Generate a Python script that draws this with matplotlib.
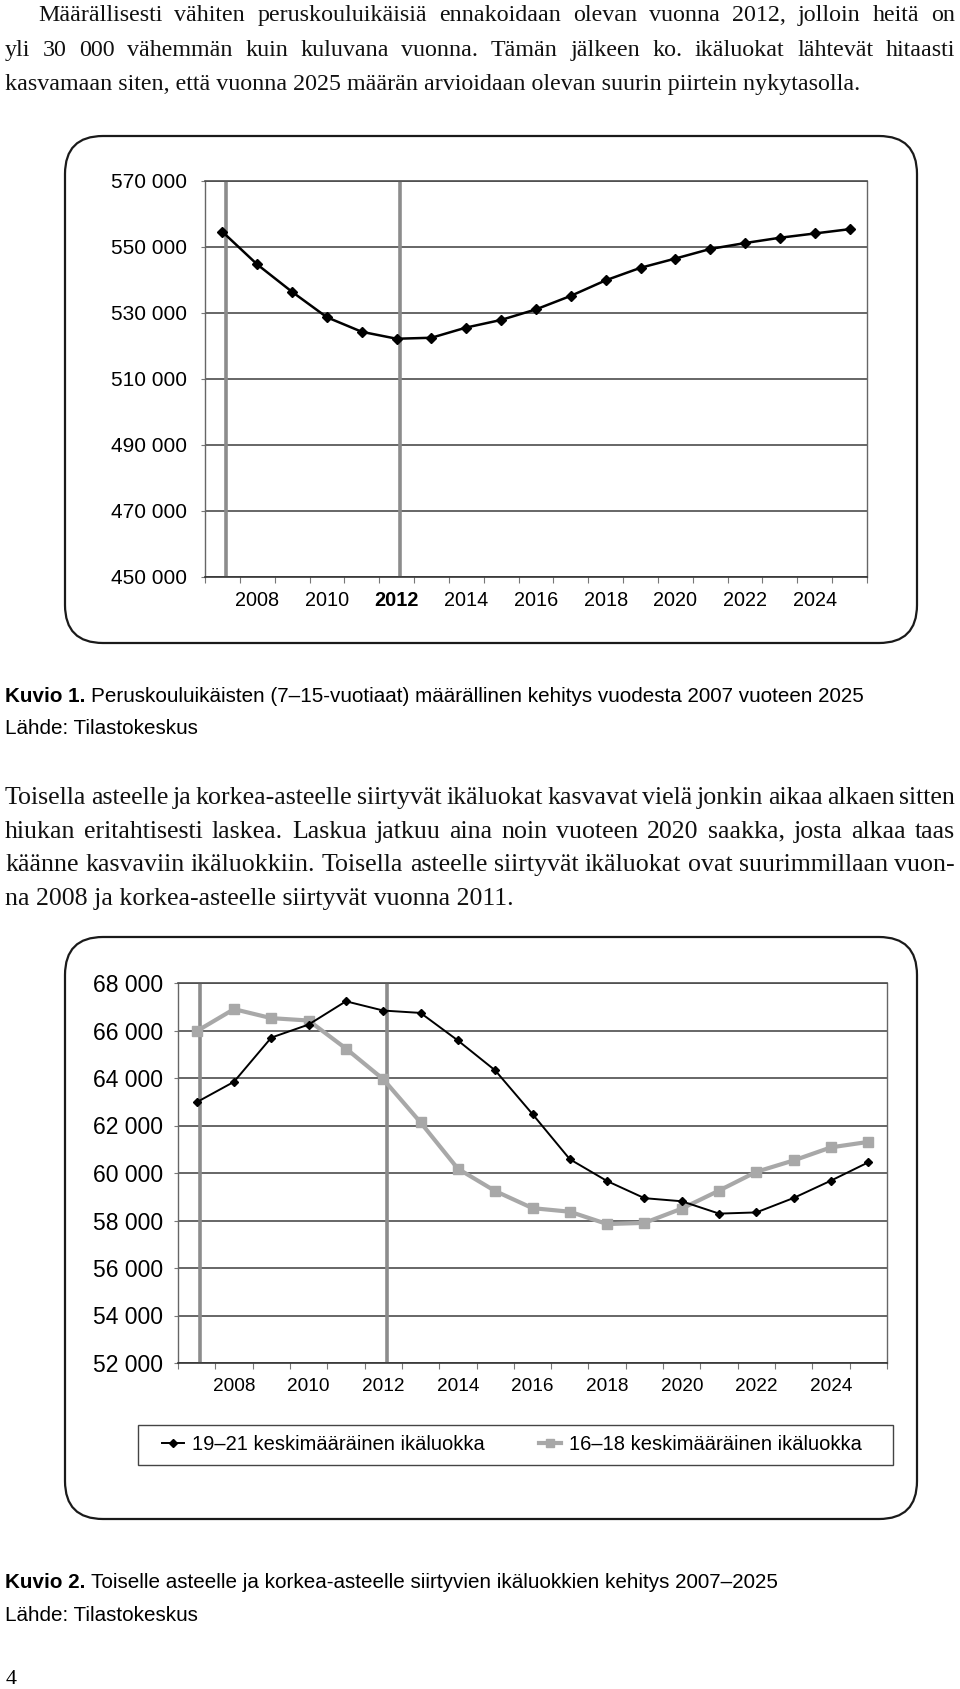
import matplotlib
matplotlib.use("Agg")
import matplotlib.pyplot as plt
from matplotlib.patches import FancyBboxPatch, Rectangle
import numpy as np

# --- data ---
years = list(range(2007, 2026))
peruskoulu = [554600, 544700, 536400, 528700, 524300, 522200, 522500, 525600, 527900,
              531100, 535200, 539900, 543700, 546500, 549400, 551200, 552800, 554100, 555400]
ika_19_21 = [62980, 63840, 65700, 66250, 67230, 66840, 66740, 65580, 64320,
             62480, 60580, 59660, 58940, 58810, 58290, 58340, 58950, 59680, 60450]
ika_16_18 = [65970, 66900, 66520, 66420, 65240, 63950, 62130, 60180, 59240,
             58520, 58370, 57850, 57900, 58500, 59260, 60050, 60530, 61080, 61310]
y1_ticks = [450000, 470000, 490000, 510000, 530000, 550000, 570000]
y2_ticks = [52000, 54000, 56000, 58000, 60000, 62000, 64000, 66000, 68000]
x_labels = [2008, 2010, 2012, 2014, 2016, 2018, 2020, 2022, 2024]
marker_years = [2007.1, 2012.1]
legend_labels = ["19–21 keskimääräinen ikäluokka", "16–18 keskimääräinen ikäluokka"]

para1 = ["Määrällisesti vähiten peruskouluikäisiä ennakoidaan olevan vuonna 2012, jolloin heitä on",
         "yli 30 000 vähemmän kuin kuluvana vuonna. Tämän jälkeen ko. ikäluokat lähtevät hitaasti",
         "kasvamaan siten, että vuonna 2025 määrän arvioidaan olevan suurin piirtein nykytasolla."]
para2 = ["Toisella asteelle ja korkea-asteelle siirtyvät ikäluokat kasvavat vielä jonkin aikaa alkaen sitten",
         "hiukan eritahtisesti laskea. Laskua jatkuu aina noin vuoteen 2020 saakka, josta alkaa taas",
         "käänne kasvaviin ikäluokkiin. Toisella asteelle siirtyvät ikäluokat ovat suurimmillaan vuon-",
         "na 2008 ja korkea-asteelle siirtyvät vuonna 2011."]

SERIF = "Liberation Serif"
SANS = "Liberation Sans"
plt.rcParams["font.family"] = [SANS, "DejaVu Sans"]

W, H = 960, 1689
fig = plt.figure(figsize=(W / 100, H / 100), dpi=100)
renderer = fig.canvas.get_renderer()

# page layer in pixel coordinates
page = fig.add_axes([0, 0, 1, 1], zorder=0)
page.set_xlim(0, W)
page.set_ylim(H, 0)
page.axis("off")


def text_width(s, **kw):
    t = page.text(0, 0, s, **kw)
    w = t.get_window_extent(renderer).width
    t.remove()
    return w


def justify(lines, x_first, x0, x1, y0, dy, **kw):
    for i, line in enumerate(lines):
        y = y0 + i * dy
        xs = x_first if i == 0 else x0
        if i == len(lines) - 1:
            page.text(xs, y, line, va="baseline", **kw)
            continue
        words = line.split(" ")
        ws = [text_width(w, **kw) for w in words]
        gap = (x1 - xs - sum(ws)) / (len(words) - 1)
        x = xs
        for w, wd in zip(words, ws):
            page.text(x, y, w, va="baseline", **kw)
            x += wd + gap


def caption(x, y, bold, rest, size):
    page.text(x, y, bold, fontsize=size, fontweight="bold", va="baseline")
    bw = text_width(bold + " ", fontsize=size, fontweight="bold")
    page.text(x + bw, y, rest, fontsize=size, va="baseline")


# body text size: full justified lines should fit with roughly natural spacing
full_lines = [(para1[0], 917), (para1[1], 950), (para2[0], 950), (para2[1], 950), (para2[2], 950)]
ratios = [span / text_width(s, fontsize=10, family=SERIF) for s, span in full_lines]
serif_size = 10 * sum(ratios) / len(ratios)
# the first paragraph is set a little tighter on the page
justify(para1, 38, 5, 955, 21, 34.5, fontsize=serif_size * 0.93, family=SERIF, color="#111")
justify(para2, 5, 5, 955, 804, 33.5, fontsize=serif_size, family=SERIF, color="#111")

cap_size = 10 * 193 / text_width("Lähde: Tilastokeskus", fontsize=10)
caption(5, 702, "Kuvio 1.", "Peruskouluikäisten (7–15-vuotiaat) määrällinen kehitys vuodesta 2007 vuoteen 2025", cap_size)
page.text(5, 734, "Lähde: Tilastokeskus", fontsize=cap_size, va="baseline")
caption(5, 1588, "Kuvio 2.", "Toiselle asteelle ja korkea-asteelle siirtyvien ikäluokkien kehitys 2007–2025", cap_size)
page.text(5, 1621, "Lähde: Tilastokeskus", fontsize=cap_size, va="baseline")
page.text(6, 1684, "4", fontsize=serif_size * 0.85, family=SERIF, va="baseline")

# rounded frames round the charts
for (bx, by, bw, bh) in [(65, 136, 852, 507), (65, 937, 852, 582)]:
    page.add_patch(FancyBboxPatch((bx, by), bw, bh, boxstyle="round,pad=0,rounding_size=38",
                                  fc="white", ec="#1a1a1a", lw=1.6))
# legend frame (entries are inset from it)
page.add_patch(Rectangle((138, 1425), 755, 40, fc="white", ec="#444", lw=1.0, zorder=3))


def px_axes(x0, y0, x1, y1):
    return fig.add_axes([x0 / W, 1 - y1 / H, (x1 - x0) / W, (y1 - y0) / H], zorder=2)


def style_axes(ax, yticks, ysize, xsize, ypad, xpad):
    ax.set_facecolor("none")
    ax.set_xlim(2006.5, 2025.5)
    ax.set_ylim(yticks[0], yticks[-1])
    ax.set_yticks(yticks)
    ax.set_yticklabels([f"{v:,}".replace(",", " ") for v in yticks], fontsize=ysize)
    ax.set_xticks(x_labels)
    ax.set_xticklabels([str(v) for v in x_labels], fontsize=xsize)
    ax.set_xticks(np.arange(2006.5, 2026, 1.0), minor=True)
    ax.tick_params(axis="x", which="major", length=0, pad=xpad)
    ax.tick_params(axis="x", which="minor", length=4, color="#777", width=0.8)
    ax.tick_params(axis="y", length=3, color="#777", width=0.8, pad=ypad)
    ax.grid(axis="y", color="#4d4d4d", lw=1.2)
    ax.set_axisbelow(True)
    for side in ["left", "right"]:
        ax.spines[side].set_color("#666")
        ax.spines[side].set_linewidth(1.0)
    ax.spines["top"].set_color("#4d4d4d")
    ax.spines["top"].set_linewidth(1.2)
    ax.spines["bottom"].set_color("#333")
    ax.spines["bottom"].set_linewidth(1.2)
    for xv in marker_years:
        ax.axvline(xv, color="#8c8c8c", lw=2.6, zorder=2)


# Kuvio 1
ax1 = px_axes(205, 181, 867, 577)
style_axes(ax1, y1_ticks, 15, 14.3, 10, 10)
ax1.get_xticklabels()[2].set_fontweight("bold")
ax1.plot(years, peruskoulu, color="black", lw=1.8, marker="D", ms=5, zorder=3)

# Kuvio 2
ax2 = px_axes(178, 983, 887, 1363)
style_axes(ax2, y2_ticks, 16.5, 13.7, 8, 11)
h1, = ax2.plot(years, ika_19_21, color="black", lw=1.4, marker="D", ms=4.5, zorder=4)
h2, = ax2.plot(years, ika_16_18, color="#a8a8a8", lw=3.0, marker="s", ms=7, zorder=3)

leg = fig.legend([h1, h2], legend_labels, loc="center",
                 bbox_to_anchor=(156 / W, 1 - 1465 / H, 712 / W, 40 / H),
                 mode="expand", ncol=2, fontsize=14.5, handlelength=1.1,
                 handletextpad=0.4, borderpad=0.3, borderaxespad=0,
                 frameon=False, numpoints=1, markerscale=0.8)
leg.set_zorder(5)

fig.savefig("out.png", dpi=100)
